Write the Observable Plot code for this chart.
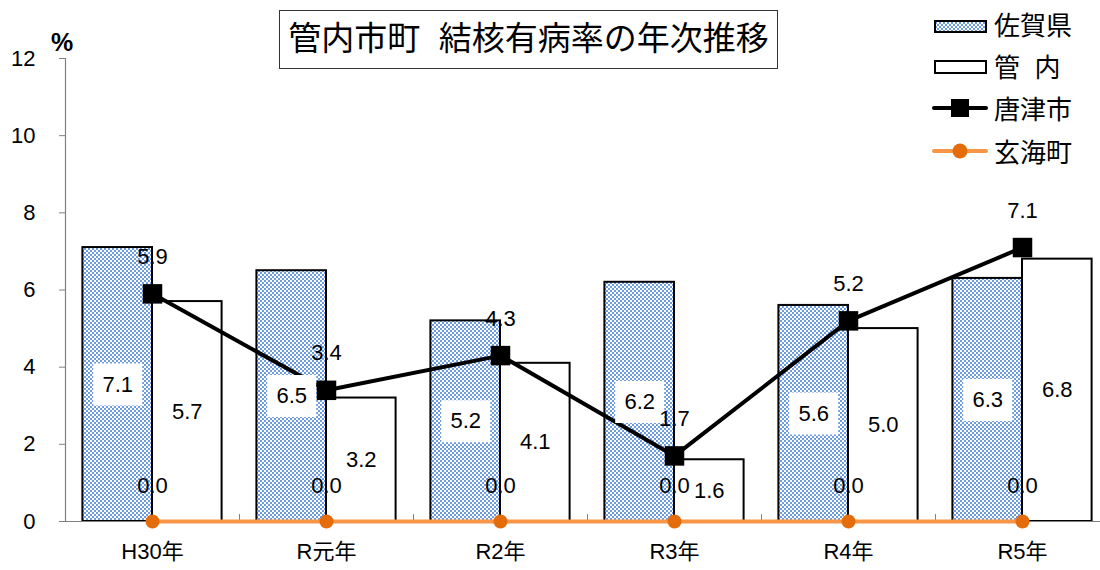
<!DOCTYPE html>
<html><head><meta charset="utf-8">
<script src="https://cdn.jsdelivr.net/npm/d3@7"></script>
<script src="https://cdn.jsdelivr.net/npm/@observablehq/plot@0.6"></script>
<style>
body{margin:0;background:#fff;font-family:"Liberation Sans","Noto Sans CJK JP",sans-serif;}
#wrap{position:relative;width:1100px;height:570px;overflow:hidden;}
#title{position:absolute;left:279px;top:10px;width:499px;height:59px;box-sizing:border-box;border:1.5px solid #333;font-size:33px;line-height:56px;text-align:center;white-space:pre;color:#000;}
#pct{position:absolute;left:51px;top:27px;font-size:25px;font-weight:bold;line-height:30px;}
#legend{position:absolute;left:925px;top:0;}
</style></head>
<body>
<svg width="0" height="0" style="position:absolute">
<defs>
<pattern id="sagaPat" width="4" height="4" patternUnits="userSpaceOnUse">
<rect width="4" height="4" fill="#ffffff"/>
<rect x="0" y="0" width="2" height="2" fill="#6d9de0"/>
<rect x="2" y="2" width="2" height="2" fill="#6d9de0"/>
</pattern>
</defs>
</svg>
<div id="wrap">
<div id="chart"></div>
<div id="title">管内市町  結核有病率の年次推移</div>
<div id="pct">%</div>
<svg id="legend" width="175" height="175" font-family="Liberation Sans, Noto Sans CJK JP, sans-serif">
<rect x="10" y="21" width="51" height="11" fill="url(#sagaPat)" stroke="#000" stroke-width="2"/>
<text x="69" y="26" font-size="26" dominant-baseline="central">佐賀県</text>
<rect x="10" y="61" width="51" height="12" fill="#fff" stroke="#000" stroke-width="2"/>
<text x="69" y="68" font-size="26" dominant-baseline="central" xml:space="preserve">管  内</text>
<line x1="9" x2="61" y1="108" y2="108" stroke="#000" stroke-width="4" stroke-linecap="round"/>
<rect x="26" y="99" width="18" height="18" fill="#000"/>
<text x="69" y="110" font-size="26" dominant-baseline="central">唐津市</text>
<line x1="9" x2="61" y1="151" y2="151" stroke="#f79646" stroke-width="4" stroke-linecap="round"/>
<circle cx="35" cy="151" r="7.5" fill="#e46c0a"/>
<text x="69" y="153" font-size="26" dominant-baseline="central">玄海町</text>
</svg>
</div>
<script>
const categories = ["H30年","R元年","R2年","R3年","R4年","R5年"];
const sagaValues = [7.1, 6.5, 5.2, 6.2, 5.6, 6.3];
const kannaiValues = [5.7, 3.2, 4.1, 1.6, 5.0, 6.8];
const karatsuValues = [5.9, 3.4, 4.3, 1.7, 5.2, 7.1];
const genkaiValues = [0, 0, 0, 0, 0, 0];
const yTicks = [0, 2, 4, 6, 8, 10, 12];

const idx = d3.range(categories.length);
const saga = idx.map(i => ({x1: i + 0.1, x2: i + 0.5, v: sagaValues[i]}));
const kannai = idx.map(i => ({x1: i + 0.5, x2: i + 0.9, v: kannaiValues[i]}));
const karatsu = idx.map(i => ({x: i + 0.5, v: karatsuValues[i]}));
const genkai = idx.map(i => ({x: i + 0.5, v: genkaiValues[i]}));
const boundaries = d3.range(1, categories.length);
const mid = d => (d.x1 + d.x2) / 2;
const half = d => d.v / 2;
const fmt = d => d.v.toFixed(1);

const labelBox = {draw(ctx) { ctx.rect(-24.5, -21, 49, 42); }};

const chart = Plot.plot({
  width: 1100, height: 570,
  marginTop: 58, marginBottom: 49, marginLeft: 65, marginRight: 0,
  style: {fontFamily: "Liberation Sans, Noto Sans CJK JP, sans-serif", background: "white", overflow: "visible", color: "black"},
  x: {type: "linear", domain: [0, categories.length], range: [65, 1109]},
  y: {domain: [0, 12]},
  marks: [
    Plot.rect(saga, {x1: "x1", x2: "x2", y1: 0, y2: "v", fill: "url(#sagaPat)"}),
    Plot.rect(kannai, {x1: "x1", x2: "x2", y1: 0, y2: "v", fill: "white"}),
    Plot.line(karatsu, {x: "x", y: "v", stroke: "black", strokeWidth: 4}),
    Plot.dot(saga, {x: mid, y: half, symbol: labelBox, fill: "white", stroke: "none", r: 10}),
    Plot.text(saga, {x: mid, y: half, text: fmt, fontSize: 22}),
    Plot.text(kannai, {x: mid, y: half, text: fmt, fontSize: 22}),
    Plot.text(karatsu, {x: "x", y: "v", text: fmt, dy: -37, fontSize: 22}),
    Plot.text(genkai, {x: "x", y: "v", text: fmt, dy: -36, fontSize: 22}),
    Plot.rect(saga, {x1: "x1", x2: "x2", y1: 0, y2: "v", fill: "none", stroke: "black", strokeWidth: 2}),
    Plot.rect(kannai, {x1: "x1", x2: "x2", y1: 0, y2: "v", fill: "none", stroke: "black", strokeWidth: 2}),
    Plot.dot(karatsu, {x: "x", y: "v", symbol: "square", r: 11, fill: "black"}),
    Plot.ruleY([0], {stroke: "#808080", strokeWidth: 1.2}),
    Plot.ruleX([0], {y1: 0, y2: 12, stroke: "#808080", strokeWidth: 1.2}),
    Plot.ruleX(boundaries, {x: d => d, y1: 0, y2: 0, insetBottom: 7, stroke: "#808080"}),
    Plot.line(genkai, {x: "x", y: "v", stroke: "#f79646", strokeWidth: 4}),
    Plot.dot(genkai, {x: "x", y: "v", r: 7, fill: "#e46c0a"}),
    Plot.axisY({ticks: yTicks, tickSize: 6, tickPadding: 24, fontSize: 22, stroke: "#808080", label: null}),
    Plot.axisX({ticks: idx.map(i => i + 0.5), tickFormat: d => categories[Math.floor(d)], tickSize: 0, tickPadding: 22, fontSize: 22, label: null})
  ]
});
document.getElementById("chart").appendChild(chart);
</script>
</body></html>
